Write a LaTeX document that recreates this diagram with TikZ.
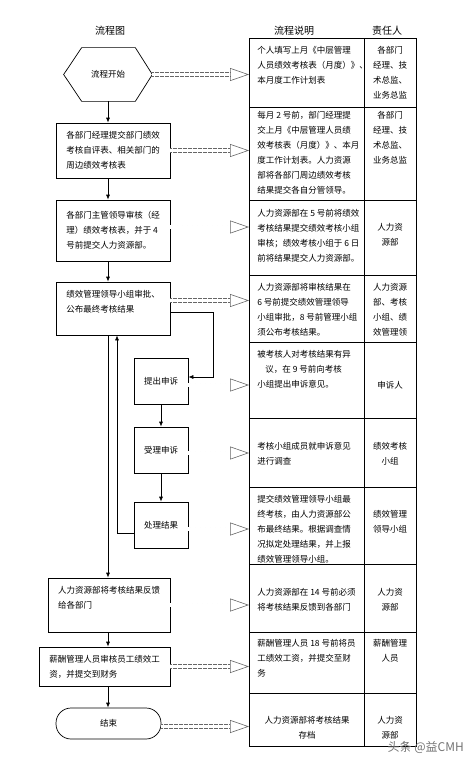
\documentclass[tikz,border=0pt]{standalone}
\usepackage{fontspec}
\setmainfont{Noto Sans CJK SC}
\usetikzlibrary{arrows.meta,positioning}

\begin{document}
\begin{tikzpicture}[x=1pt,y=-1pt,>={Latex[length=5pt,width=4pt]},line width=.7pt,
 font=\fontsize{8.5}{15}\selectfont,
 box/.style={draw,align=left,inner sep=0pt},
 cell/.style={draw,anchor=north west,inner sep=0pt},
 txt/.style={anchor=north west,align=left,inner sep=0pt},
 who/.style={anchor=north,align=center,inner sep=0pt},
 head/.style={font=\fontsize{10}{12}\selectfont},
 flow/.style={draw=black!60,double=white,double distance=3.5pt,line width=.7pt,
  dash pattern=on 2pt off .5pt,-{Triangle[open,length=19pt,width=13pt,line width=.6pt]}}]
\useasboundingbox (0,0) rectangle (474,760);

% headings
\node[head] (h1) at (110,31) {流程图};
\node[head] (h2) at (294,31) {流程说明};
\node[head] (h3) at (387,31) {责任人};

% table
\foreach \i/\t/\h in {1/38/69,2/107/93,3/200/75,4/275/67,5/342/76,
 6/418/69,7/487/77,8/564/68,9/632/61,10/693/53}{
 \node[cell,minimum width=115pt,minimum height=\h pt] (c\i) at (249,\t) {};
 \node[cell,minimum width=52pt,minimum height=\h pt] (r\i) at (364,\t) {};
}

\node[txt] (d1) at (257,46) {个人填写上月《中层管理\\人员绩效考核表（月度）》、\\本月度工作计划表};
\node[who] (p1) at (390,46) {各部门\\经理、技\\术总监、\\业务总监};
\node[txt] (d2) at (257,111) {每月 2 号前，部门经理提\\交上月《中层管理人员绩\\效考核表（月度）》、本月\\度工作计划表。人力资源\\部将各部门周边绩效考核\\结果提交各自分管领导。};
\node[who] (p2) at (390,111) {各部门\\经理、技\\术总监、\\业务总监};
\node[txt] (d3) at (257,209) {人力资源部在 5 号前将绩效\\考核结果提交绩效考核小组\\审核；绩效考核小组于 6 日\\前将结果提交人力资源部。};
\node[who] (p3) at (390,223) {人力资\\源部};
\node[txt] (d4) at (257,283) {人力资源部将审核结果在\\6 号前提交绩效管理领导\\小组审批，8 号前管理小组\\须公布考核结果。};
\node[who] (p4) at (390,283) {人力资源\\部、考核\\小组、绩\\效管理领};
\node[txt] (d5) at (257,350) {被考核人对考核结果有异\\\hspace*{8pt}议，在 9 号前向考核\\小组提出申诉意见。};
\node[who] (p5) at (390,381) {申诉人};
\node[txt] (d6) at (257,442) {考核小组成员就申诉意见\\进行调查};
\node[who] (p6) at (390,442) {绩效考核\\小组};
\node[txt] (d7) at (257,495) {提交绩效管理领导小组最\\终考核，由人力资源部公\\布最终结果。根据调查情\\况拟定处理结果，并上报\\绩效管理领导小组。};
\node[who] (p7) at (390,510) {绩效管理\\领导小组};
\node[txt] (d8) at (257,588) {人力资源部在 14 号前必须\\将考核结果反馈到各部门};
\node[who] (p8) at (390,588) {人力资\\源部};
\node[txt] (d9) at (257,639) {薪酬管理人员 18 号前将员\\工绩效工资，并提交至财\\务};
\node[who] (p9) at (390,639) {薪酬管理\\人员};
\node[who] (d10) at (307,716) {人力资源部将考核结果\\存档};
\node[who] (p10) at (390,716) {人力资\\源部};

% flow chart
\node[minimum width=88pt,minimum height=53pt,inner sep=0pt] (hex) at (108,74.5) {流程开始};
\draw (hex.west) -- ([xshift=18pt]hex.north west) -- ([xshift=-17pt]hex.north east)
 -- (hex.east) -- ([xshift=-17pt]hex.south east) -- ([xshift=18pt]hex.south west) -- cycle;
\node[box,minimum width=114pt,minimum height=55pt] (b2) at (113,150.5) {各部门经理提交部门绩效\\考核自评表、相关部门的\\周边绩效考核表};
\node[box,minimum width=114pt,minimum height=61pt] (b3) at (113,230.5) {各部门主管领导审核（经\\理）绩效考核表，并于 4\\号前提交人力资源部。};
\node[box,minimum width=114pt,minimum height=53pt] (b4) at (113,308.5) {绩效管理领导小组审批、\\公布最终考核结果\\ };
\node[box,minimum width=54pt,minimum height=46pt] (ap) at (161,381) {提出申诉};
\node[box,minimum width=54pt,minimum height=46pt] (ac) at (161,450) {受理申诉};
\node[box,minimum width=54pt,minimum height=46pt] (ar) at (161,525) {处理结果};
\node[box,minimum width=122pt,minimum height=54pt] (b5) at (109,605) { 人力资源部将考核结果反馈\\给各部门\\ };
\node[box,minimum width=131pt,minimum height=39pt] (b6) at (104.5,666.5) {薪酬管理人员审核员工绩效工\\资，并提交到财务};
\node[draw,rounded corners=15pt,minimum width=105pt,minimum height=31pt] (stop) at (108.5,723.5) {结束};

\draw[->] (hex.south) -- (b2.north -| hex.south);
\draw[->] (b2.south -| hex.south) -- (b3.north -| hex.south);
\draw[->] (b3.south -| hex.south) -- (b4.north -| hex.south);
\draw[->] ([yshift=-3.5pt]b4.east) -- ++(43,0) |- ([yshift=4pt]ap.east);
\draw[->] (ap.south) -- (ac.north);
\draw[->] (ac.south) -- (ar.north);
\draw[->] ([yshift=-8pt]ar.west) -| ([xshift=4pt]b4.south);
\draw[->] (b4.south -| hex.south) -- (b5.north -| hex.south);
\draw[->] (b5.south -| hex.south) -- (b6.north -| hex.south);
\draw[->] (b6.south -| hex.south) -- (stop.north -| hex.south);

\draw[flow] (hex.east) -- (hex.east -| c1.west);
\draw[flow] (b2.east) -- (b2.east -| c2.west);
\draw[flow] ([yshift=3.5pt]b3.east) -- ([yshift=3.5pt]b3.east -| c3.west);
\draw[flow] ([yshift=8pt]b4.east) -- ([yshift=8pt]b4.east -| c4.west);
\draw[flow] ([yshift=-4pt]ap.east) -- ([yshift=-4pt]ap.east -| c5.west);
\draw[flow] ([yshift=-3pt]ac.east) -- ([yshift=-3pt]ac.east -| c6.west);
\draw[flow] ([yshift=-4pt]ar.east) -- ([yshift=-4pt]ar.east -| c7.west);
\draw[flow] (b5.east) -- (b5.east -| c8.west);
\draw[flow] (b6.east) -- (b6.east -| c9.west);
\draw[flow] ([yshift=-3pt]stop.east) -- ([yshift=-3pt]stop.east -| c10.west);

\node[anchor=west,text=black!55,font=\fontsize{12}{14}\selectfont] (mark) at (384,747) {头条 @益CMH};
\end{tikzpicture}
\end{document}
